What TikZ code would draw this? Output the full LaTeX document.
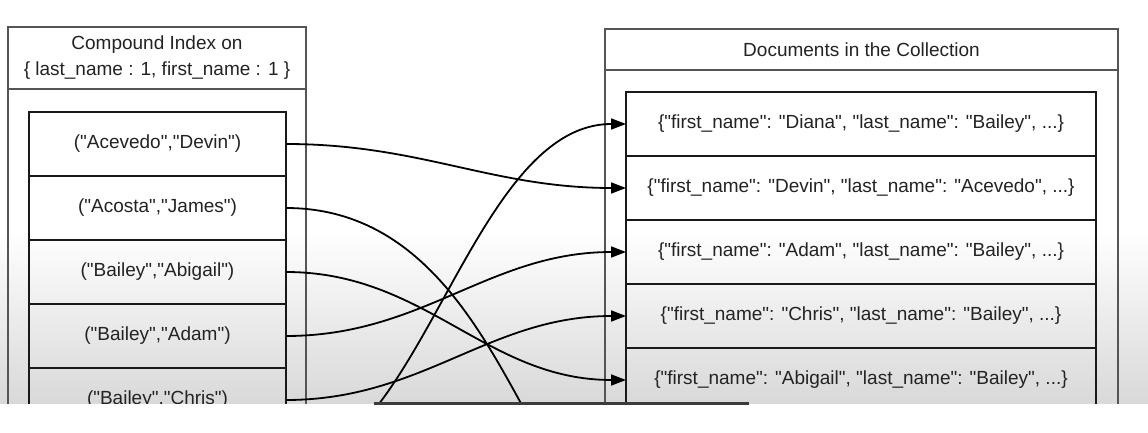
\documentclass[tikz,border=0pt]{standalone}
\usepackage{fontspec}
\setmainfont{Liberation Sans}
\usetikzlibrary{arrows.meta}
\definecolor{frmc}{RGB}{85,85,85}
\definecolor{cellc}{RGB}{25,25,25}
\definecolor{ink}{RGB}{35,35,35}
\definecolor{barc}{RGB}{60,60,60}
\newcommand{\qt}{\textquotedbl}
\tikzset{
    frm/.style={rectangle,draw=frmc,line width=1.5pt,inner sep=0pt,outer sep=0pt},
    hdr/.style={frm,align=center,text=ink,font=\fontsize{19pt}{26pt}\selectfont},
    keyrow/.style={rectangle,draw=cellc,line width=2.2pt,minimum width=257pt,minimum height=64pt,inner sep=0pt,outer sep=0pt,text=ink,font=\fontsize{19pt}{23pt}\selectfont},
    docrow/.style={keyrow,minimum width=470pt},
    link/.style={-{Triangle[length=15pt,width=11pt]},line width=1.8pt,black},
}

\begin{document}
\begin{tikzpicture}[x=1pt,y=-1pt]
\useasboundingbox (0,0) rectangle (1148,433);
\fill[white] (0,0) rectangle (1148,433);
\shade[top color=white,bottom color=black!15] (0,230) rectangle (1148,403);
\begin{scope}
\clip (0,0) rectangle (1148,403);
% index side
\node[hdr,minimum width=298pt,minimum height=62pt] (ihead) at (157,58) {Compound Index on\\\{ last\_name : 1, first\_name : 1 \}};
\node[frm,minimum width=298pt,minimum height=400pt,anchor=north] (ibody) at (ihead.south) {};
\node[keyrow] (k1) at (157.5,144) {(\qt Acevedo\qt,\qt Devin\qt)};
\node[keyrow] (k2) at (157.5,208) {(\qt Acosta\qt,\qt James\qt)};
\node[keyrow] (k3) at (157.5,272) {(\qt Bailey\qt,\qt Abigail\qt)};
\node[keyrow] (k4) at (157.5,336) {(\qt Bailey\qt,\qt Adam\qt)};
\node[keyrow] (k5) at (157.5,400) {(\qt Bailey\qt,\qt Chris\qt)};
\coordinate (k6) at (286,464);
% collection side
\node[hdr,minimum width=513pt,minimum height=41pt] (dhead) at (861.5,49.5) {Documents in the Collection};
\node[frm,minimum width=513pt,minimum height=400pt,anchor=north] (dbody) at (dhead.south) {};
\node[docrow] (d1) at (861,124) {\{\qt first\_name\qt: \qt Diana\qt, \qt last\_name\qt: \qt Bailey\qt, ...\}};
\node[docrow] (d2) at (861,188) {\{\qt first\_name\qt: \qt Devin\qt, \qt last\_name\qt: \qt Acevedo\qt, ...\}};
\node[docrow] (d3) at (861,252) {\{\qt first\_name\qt: \qt Adam\qt, \qt last\_name\qt: \qt Bailey\qt, ...\}};
\node[docrow] (d4) at (861,316) {\{\qt first\_name\qt: \qt Chris\qt, \qt last\_name\qt: \qt Bailey\qt, ...\}};
\node[docrow] (d5) at (861,380) {\{\qt first\_name\qt: \qt Abigail\qt, \qt last\_name\qt: \qt Bailey\qt, ...\}};
\coordinate (d7) at (626,508);
% pointers
\draw[link] (k1.east) to[out=0,in=180] (d2.west);
\draw[link] (k2.east) to[out=0,in=180,out distance=210pt,in distance=100pt] (d7);
\draw[link] (k3.east) to[out=0,in=180] (d5.west);
\draw[link] (k4.east) to[out=0,in=180] (d3.west);
\draw[link] (k5.east) to[out=0,in=180] (d4.west);
\draw[link] (k6) to[out=0,in=180,out distance=134pt,in distance=156pt] (d1.west);
\end{scope}
\draw[barc,line width=3pt] (374,403) -- (749,403);
\end{tikzpicture}
\end{document}
